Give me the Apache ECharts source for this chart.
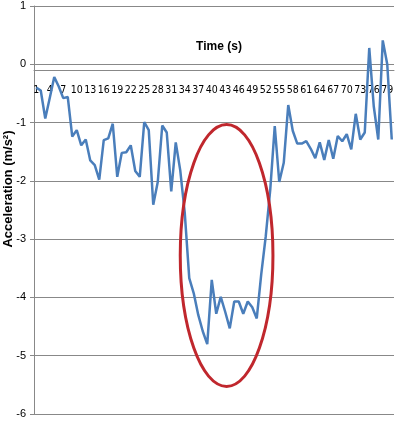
<!DOCTYPE html>
<html>
<head>
<meta charset="utf-8">
<style>
  html, body { margin: 0; padding: 0; background: #fff; }
  #chart { width: 412px; height: 432px; }
</style>
<script src="https://cdn.jsdelivr.net/npm/echarts@6/dist/echarts.min.js"></script>
</head>
<body>
<div id="chart"></div>
<script>
// time in seconds, 1..80
var times = [];
for (var t = 1; t <= 80; t++) times.push(String(t));

// acceleration (m/s^2)
var accel = [
  -0.40, -0.45, -0.93, -0.58, -0.22, -0.38, -0.58, -0.56, -1.24, -1.13,
  -1.39, -1.29, -1.65, -1.73, -1.98, -1.30, -1.27, -1.02, -1.93, -1.52,
  -1.51, -1.39, -1.83, -1.93, -0.99, -1.13, -2.41, -2.02, -1.05, -1.17,
  -2.18, -1.34, -1.82, -2.55, -3.67, -3.93, -4.30, -4.58, -4.80, -3.70,
  -4.28, -3.99, -4.25, -4.53, -4.07, -4.07, -4.28, -4.07, -4.17, -4.36,
  -3.60, -2.95, -2.15, -1.06, -2.02, -1.69, -0.70, -1.14, -1.36, -1.36,
  -1.32, -1.45, -1.61, -1.34, -1.64, -1.30, -1.62, -1.23, -1.32, -1.20,
  -1.46, -0.85, -1.29, -1.17, 0.28, -0.72, -1.29, 0.41, 0.00, -1.29
];

// ellipse drawn round the dip: category indices and values of its box
var ringX = [32, 52.6];
var ringY = [-1.07, -5.64];

(function() {
  var grey = '#888888';
  var chart = echarts.init(document.getElementById('chart'), null, { renderer: 'canvas' });

  chart.setOption({
    animation: false,
    backgroundColor: '#fff',
    grid: { left: 34, right: 18, top: 6, bottom: 18 },
    xAxis: {
      type: 'category',
      data: times,
      boundaryGap: true,
      axisLine: { onZero: false, lineStyle: { color: grey, width: 1 } },
      axisTick: { interval: 0, length: 4, lineStyle: { color: grey } },
      axisLabel: {
        interval: 2,
        color: '#000',
        fontFamily: '"Liberation Sans Narrow", "DejaVu Sans Condensed", Arial',
        fontSize: 10.5,
        margin: 14
      },
      splitLine: { show: false }
    },
    yAxis: {
      type: 'value',
      min: -6,
      max: 1,
      interval: 1,
      axisLine: { show: true, lineStyle: { color: grey, width: 1 } },
      axisTick: { show: true, length: 4, lineStyle: { color: grey } },
      axisLabel: {
        color: '#000',
        fontFamily: 'Liberation Sans, Arial',
        fontSize: 11,
        margin: 8
      },
      splitLine: { lineStyle: { color: grey, width: 1 } }
    },
    series: [{
      type: 'line',
      data: accel,
      symbol: 'none',
      lineStyle: { color: '#4a7ebb', width: 2.5 },
      z: 3
    }]
  });

  function px(i, v) {
    return chart.convertToPixel({ xAxisIndex: 0, yAxisIndex: 0 }, [i, v]);
  }
  function xOf(idx) {
    var a = Math.floor(idx), f = idx - a;
    var p0 = px(a, 0)[0], p1 = px(a + 1, 0)[0];
    return p0 + (p1 - p0) * f;
  }

  // move the time axis up so it crosses the value axis at 0
  var yZero = px(0, 0)[1];
  var yBottom = px(0, -6)[1];

  var x0 = xOf(ringX[0]), x1 = xOf(ringX[1]);
  var y0 = px(0, ringY[0])[1], y1 = px(0, ringY[1])[1];

  chart.setOption({
    xAxis: { offset: yZero - yBottom },
    graphic: [
      {
        type: 'ellipse',
        shape: {
          cx: (x0 + x1) / 2,
          cy: (y0 + y1) / 2,
          rx: (x1 - x0) / 2,
          ry: (y1 - y0) / 2
        },
        style: { fill: 'none', stroke: '#c0272d', lineWidth: 3 },
        z: 10
      },
      {
        type: 'text',
        x: 219,
        y: 47,
        style: {
          text: 'Time (s)',
          fill: '#000',
          font: 'bold 12px "Liberation Sans", Arial',
          align: 'center',
          verticalAlign: 'middle'
        }
      },
      {
        type: 'text',
        x: 8,
        y: 189,
        rotation: Math.PI / 2,
        style: {
          text: 'Acceleration (m/s²)',
          fill: '#000',
          font: 'bold 13px "Liberation Sans", Arial',
          align: 'center',
          verticalAlign: 'middle'
        }
      }
    ]
  });

  window.addEventListener('resize', function() { chart.resize(); });
})();
</script>
</body>
</html>
